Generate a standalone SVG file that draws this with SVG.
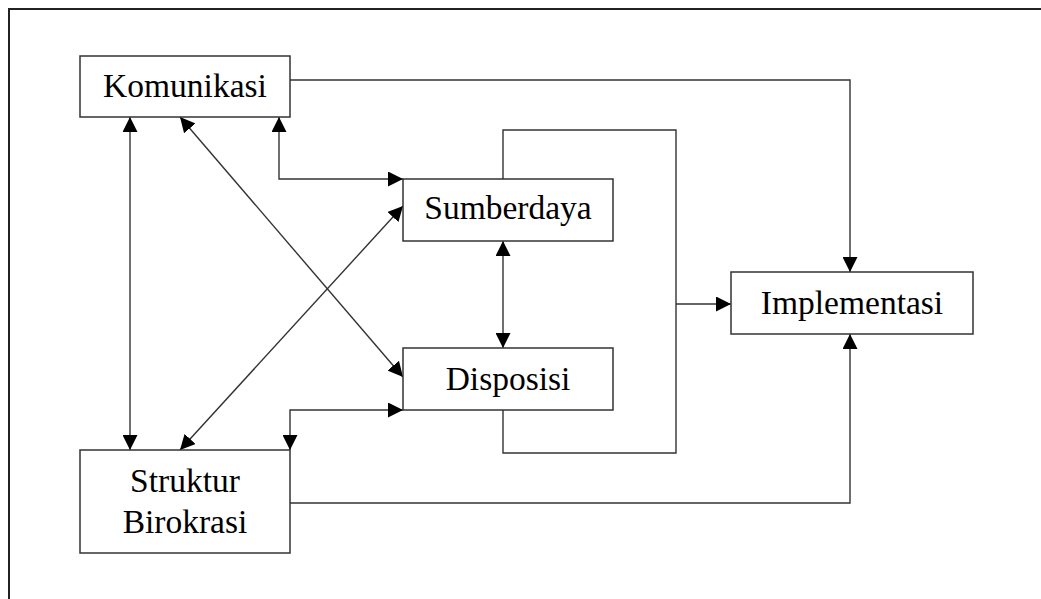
<svg xmlns="http://www.w3.org/2000/svg" width="1041" height="599" viewBox="0 0 1041 599">
<style>
.box{fill:#fff;stroke:#333;stroke-width:1.5}
.lbl{font-family:"Liberation Serif","Times New Roman",serif;font-size:33.5px;fill:#000;text-anchor:middle}
.c{fill:none;stroke:#333;stroke-width:1.4}
.a{marker-end:url(#ah)}
.aa{marker-start:url(#ah);marker-end:url(#ah)}
</style>
<defs>
<marker id="ah" viewBox="0 0 10 10" refX="10" refY="5" markerUnits="userSpaceOnUse" markerWidth="15" markerHeight="15" orient="auto-start-reverse">
<path d="M0,0 L10,5 L0,10 z" fill="#000"/>
</marker>
</defs>
<rect x="0" y="0" width="1041" height="599" fill="#fff"/>
<rect x="9" y="9" width="1100" height="700" fill="none" stroke="#222" stroke-width="2"/>
<g id="connectors">
<polyline class="c a" points="290,80 850,80 850,272"/>
<line class="c aa" x1="130" y1="117" x2="130" y2="450"/>
<line class="c aa" x1="180" y1="117" x2="403" y2="377"/>
<polyline class="c aa" points="279,117 279,179 403,179"/>
<line class="c aa" x1="180" y1="450" x2="403" y2="206"/>
<line class="c aa" x1="503" y1="241" x2="503" y2="348"/>
<polyline class="c aa" points="290,450 290,410 403,410"/>
<polyline class="c" points="503,179 503,130 676,130 676,453 503,453 503,410"/>
<line class="c a" x1="676" y1="304" x2="731" y2="304"/>
<polyline class="c a" points="290,503 850,503 850,334"/>
</g>
<g id="komunikasi">
<rect class="box" x="80" y="56" width="210" height="61"/>
<text class="lbl" x="185" y="97">Komunikasi</text>
</g>
<g id="sumberdaya">
<rect class="box" x="403" y="179" width="210" height="62"/>
<text class="lbl" x="508" y="219">Sumberdaya</text>
</g>
<g id="disposisi">
<rect class="box" x="403" y="348" width="210" height="62"/>
<text class="lbl" x="508" y="390">Disposisi</text>
</g>
<g id="implementasi">
<rect class="box" x="731" y="272" width="242" height="62"/>
<text class="lbl" x="852" y="314">Implementasi</text>
</g>
<g id="struktur">
<rect class="box" x="80" y="450" width="210" height="103"/>
<text class="lbl" x="185" y="492">Struktur</text>
<text class="lbl" x="185" y="533">Birokrasi</text>
</g>
</svg>
